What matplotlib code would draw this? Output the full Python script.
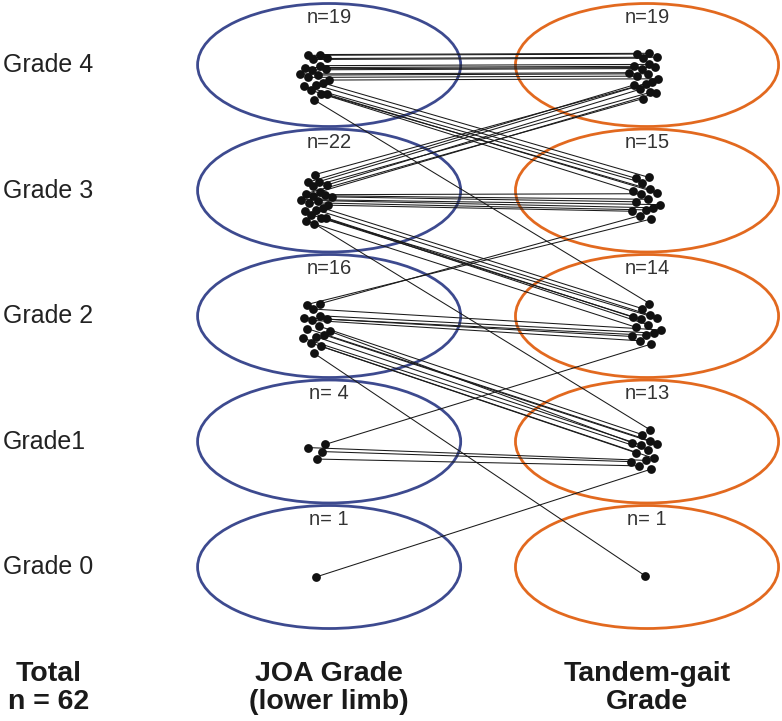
import numpy as np
import matplotlib
matplotlib.use("Agg")
import matplotlib.pyplot as plt
from matplotlib.patches import Ellipse

plt.rcParams['font.family'] = ['Liberation Sans', 'DejaVu Sans']

# grades shown top to bottom
grades = [4, 3, 2, 1, 0]
grade_labels = ["Grade 4", "Grade 3", "Grade 2", "Grade1", "Grade 0"]

# patients per grade
joa_n = [19, 22, 16, 4, 1]
tandem_n = [19, 15, 14, 13, 1]

# transitions: rows = JOA grade 4..0, cols = Tandem-gait grade 4..0
transitions = [
    [12, 6, 1, 0, 0],
    [7, 7, 7, 1, 0],
    [0, 2, 5, 8, 1],
    [0, 0, 1, 3, 0],
    [0, 0, 0, 1, 0],
]

col_titles = ["JOA Grade\n(lower limb)", "Tandem-gait\nGrade"]
total_title = "Total\nn = 62"

blue = "#3d4a8f"
orange = "#e2691f"

fig = plt.figure(figsize=(7.82, 7.21), dpi=100)
ax = fig.add_axes([0, 0, 1, 1])
# x: 0 = JOA column, 1 = Tandem column; y: grade
ax.set_xlim(-0.9785, 1.420)
ax.set_ylim(-1.227, 4.518)
ax.axis("off")


def cluster(n, cx, cy, wx=0.05, wy=0.2):
    # compact dot cloud, sorted top to bottom
    ga = np.pi * (3 - np.sqrt(5))
    k = np.arange(n)
    if n == 1:
        return np.array([cx]), np.array([cy])
    r = np.sqrt((k + 0.5) / n)
    xs = cx + r * np.cos(k * ga) * wx
    ys = cy + r * np.sin(k * ga) * wy
    order = np.argsort(-ys)
    return xs[order], ys[order]


def spread(n):
    return 0.04 + 0.18 * min(1.0, (n - 1) / 15)


joa_pts = []
tan_pts = []
for i, g in enumerate(grades):
    joa_pts.append(cluster(joa_n[i], -0.01, g - 0.08, wy=spread(joa_n[i])))
    tan_pts.append(cluster(tandem_n[i], 1.0, g - 0.07, wy=spread(tandem_n[i])))

# connecting lines: top JOA points go to the highest tandem grades
tan_used = [0] * 5
for i in range(5):
    p = 0
    for j in range(5):
        for _ in range(transitions[i][j]):
            x0, y0 = joa_pts[i][0][p], joa_pts[i][1][p]
            q = tan_used[j]
            x1, y1 = tan_pts[j][0][q], tan_pts[j][1][q]
            ax.plot([x0, x1], [y0, y1], color="#1a1a1a", lw=0.75, zorder=2)
            p += 1
            tan_used[j] += 1

for i, g in enumerate(grades):
    ax.add_patch(Ellipse((0.031, g), 0.807, 0.98, fill=False, ec=blue, lw=2.0, zorder=1))
    ax.add_patch(Ellipse((1.006, g), 0.807, 0.98, fill=False, ec=orange, lw=2.0, zorder=1))
    ax.scatter(joa_pts[i][0], joa_pts[i][1], s=40, color="#111111", zorder=3, linewidths=0)
    ax.scatter(tan_pts[i][0], tan_pts[i][1], s=40, color="#111111", zorder=3, linewidths=0)
    ax.text(0.031, g + 0.38, f"n={joa_n[i]}" if joa_n[i] >= 10 else f"n= {joa_n[i]}",
            ha="center", va="center", fontsize=14.5, color="#333333")
    ax.text(1.006, g + 0.38, f"n={tandem_n[i]}" if tandem_n[i] >= 10 else f"n= {tandem_n[i]}",
            ha="center", va="center", fontsize=14.5, color="#333333")
    ax.text(-0.969, g, grade_labels[i], ha="left", va="center", fontsize=18, color="#222222")

ax.text(-0.83, -0.964, total_title, ha="center", va="center", fontsize=20.5,
        fontweight="bold", linespacing=1.1, color="#1a1a1a")
ax.text(0.031, -0.964, col_titles[0], ha="center", va="center", fontsize=20.5,
        fontweight="bold", linespacing=1.1, color="#1a1a1a")
ax.text(1.006, -0.964, col_titles[1], ha="center", va="center", fontsize=20.5,
        fontweight="bold", linespacing=1.1, color="#1a1a1a")

fig.savefig("out.png", dpi=100)
